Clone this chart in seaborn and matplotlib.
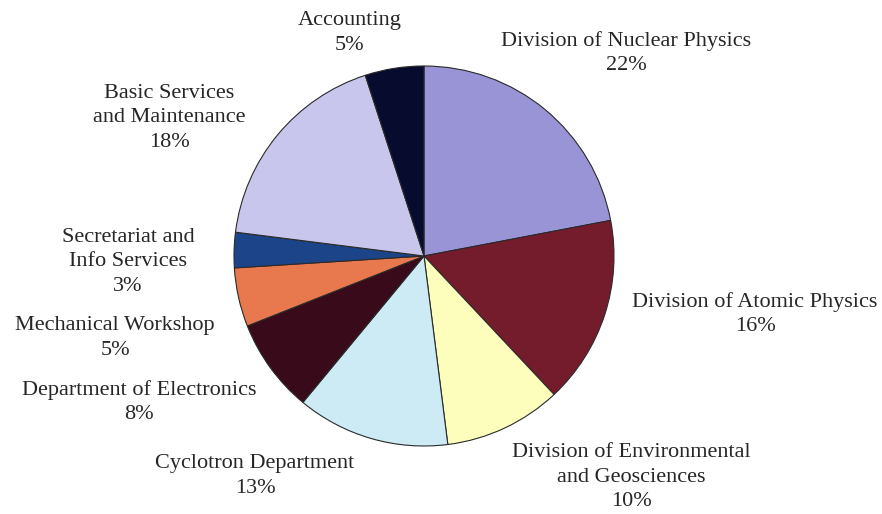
import matplotlib
matplotlib.use("Agg")
import matplotlib.pyplot as plt
import seaborn as sns

sns.set_theme(style="white")
plt.rcParams["font.family"] = ["Liberation Serif", "DejaVu Serif"]

departments = [
    "Division of Nuclear Physics",
    "Division of Atomic Physics",
    "Division of Environmental\nand Geosciences",
    "Cyclotron Department",
    "Department of Electronics",
    "Mechanical Workshop",
    "Secretariat and\nInfo Services",
    "Basic Services\nand Maintenance",
    "Accounting",
]
shares = [22, 16, 10, 13, 8, 5, 3, 18, 5]
colors = ["#9894d6", "#751c2c", "#fdfdbc", "#cdebf5", "#380a1a",
          "#e8784e", "#1c4488", "#c8c6ec", "#070b2e"]

# label anchor points (figure pixels, y measured from the top)
label_x = [626, 755, 631, 255, 139, 115, 128, 169, 350]
label_y = [53, 314, 477, 476, 402, 338, 262, 118, 33]

W, H = 882, 514
fig = plt.figure(figsize=(W / 100, H / 100), dpi=100)
ax = fig.add_axes([0, 0, 1, 1])

ax.pie(shares, colors=colors, startangle=90, counterclock=False,
       center=(424, H - 256), radius=190, frame=True,
       wedgeprops=dict(edgecolor="#2a2a2a", linewidth=0.8))
ax.set_xlim(0, W)
ax.set_ylim(0, H)
ax.set_aspect("auto")
ax.axis("off")

for name, val, x, y in zip(departments, shares, label_x, label_y):
    ax.text(x, H - y, f"{name}\n{val}%", ha="center", va="center",
            fontsize=16, color="#262626", linespacing=1.42)

fig.savefig("out.png", dpi=100, facecolor="white")
